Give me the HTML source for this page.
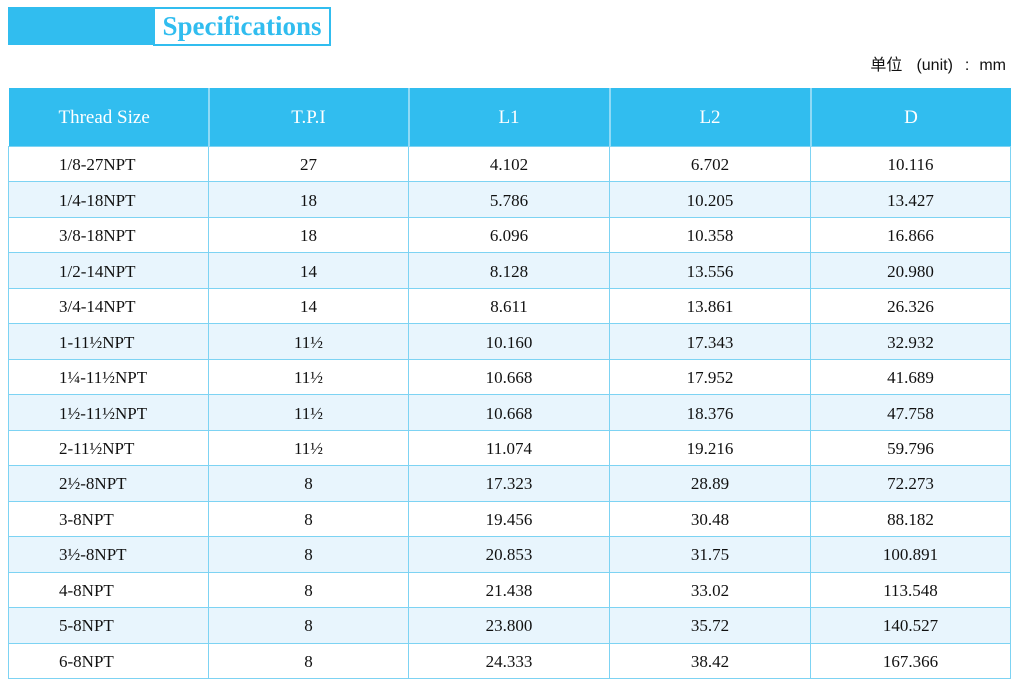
<!DOCTYPE html>
<html><head><meta charset="utf-8"><style>
body{margin:0;width:1025px;height:696px;background:#fff;position:relative;overflow:hidden;font-family:"Liberation Serif",serif;}
.bar{position:absolute;left:8px;top:7px;width:146px;height:38px;background:#31bdef;}
.title{position:absolute;left:153px;top:7px;width:174px;height:35px;border:2px solid #31bdef;background:#fff;color:#31bdef;font-weight:bold;font-size:27px;line-height:35px;text-align:center;white-space:nowrap;}
.unit{position:absolute;right:19px;top:51px;font-family:"Liberation Sans","Noto Sans CJK SC",sans-serif;font-size:16px;color:#111;white-space:nowrap;}
.unit span{display:inline-block;}
table{position:absolute;left:8px;top:88px;width:1002px;border-collapse:collapse;table-layout:fixed;}
th{background:#31bdef;color:#fff;font-weight:normal;font-size:19px;height:56px;padding:2px 0 0 0;border-left:2px solid #8fdaf6;text-align:center;}
th:first-child{border-left:none;text-align:left;padding-left:50px;}
td{height:32.47px;padding:2px 0 0 0;font-size:17px;color:#111;text-align:center;border:1.5px solid #7dd3f3;}
td:first-child{text-align:left;padding-left:50px;}
tr:nth-child(even) td{background:#e8f5fd;}
</style></head><body>
<div class="bar"></div><div class="title">Specifications</div>
<div class="unit">单位<span style="width:14px"></span>(unit)<span style="width:12px"></span>:<span style="width:10px"></span>mm</div>
<table>
<colgroup><col style="width:200px"><col style="width:200px"><col style="width:201px"><col style="width:201px"><col style="width:200px"></colgroup>
<thead><tr><th>Thread Size</th><th>T.P.I</th><th>L1</th><th>L2</th><th>D</th></tr></thead>
<tbody>
<tr><td>1/8-27NPT</td><td>27</td><td>4.102</td><td>6.702</td><td>10.116</td></tr>
<tr><td>1/4-18NPT</td><td>18</td><td>5.786</td><td>10.205</td><td>13.427</td></tr>
<tr><td>3/8-18NPT</td><td>18</td><td>6.096</td><td>10.358</td><td>16.866</td></tr>
<tr><td>1/2-14NPT</td><td>14</td><td>8.128</td><td>13.556</td><td>20.980</td></tr>
<tr><td>3/4-14NPT</td><td>14</td><td>8.611</td><td>13.861</td><td>26.326</td></tr>
<tr><td>1-11½NPT</td><td>11½</td><td>10.160</td><td>17.343</td><td>32.932</td></tr>
<tr><td>1¼-11½NPT</td><td>11½</td><td>10.668</td><td>17.952</td><td>41.689</td></tr>
<tr><td>1½-11½NPT</td><td>11½</td><td>10.668</td><td>18.376</td><td>47.758</td></tr>
<tr><td>2-11½NPT</td><td>11½</td><td>11.074</td><td>19.216</td><td>59.796</td></tr>
<tr><td>2½-8NPT</td><td>8</td><td>17.323</td><td>28.89</td><td>72.273</td></tr>
<tr><td>3-8NPT</td><td>8</td><td>19.456</td><td>30.48</td><td>88.182</td></tr>
<tr><td>3½-8NPT</td><td>8</td><td>20.853</td><td>31.75</td><td>100.891</td></tr>
<tr><td>4-8NPT</td><td>8</td><td>21.438</td><td>33.02</td><td>113.548</td></tr>
<tr><td>5-8NPT</td><td>8</td><td>23.800</td><td>35.72</td><td>140.527</td></tr>
<tr><td>6-8NPT</td><td>8</td><td>24.333</td><td>38.42</td><td>167.366</td></tr>
</tbody></table>
</body></html>
